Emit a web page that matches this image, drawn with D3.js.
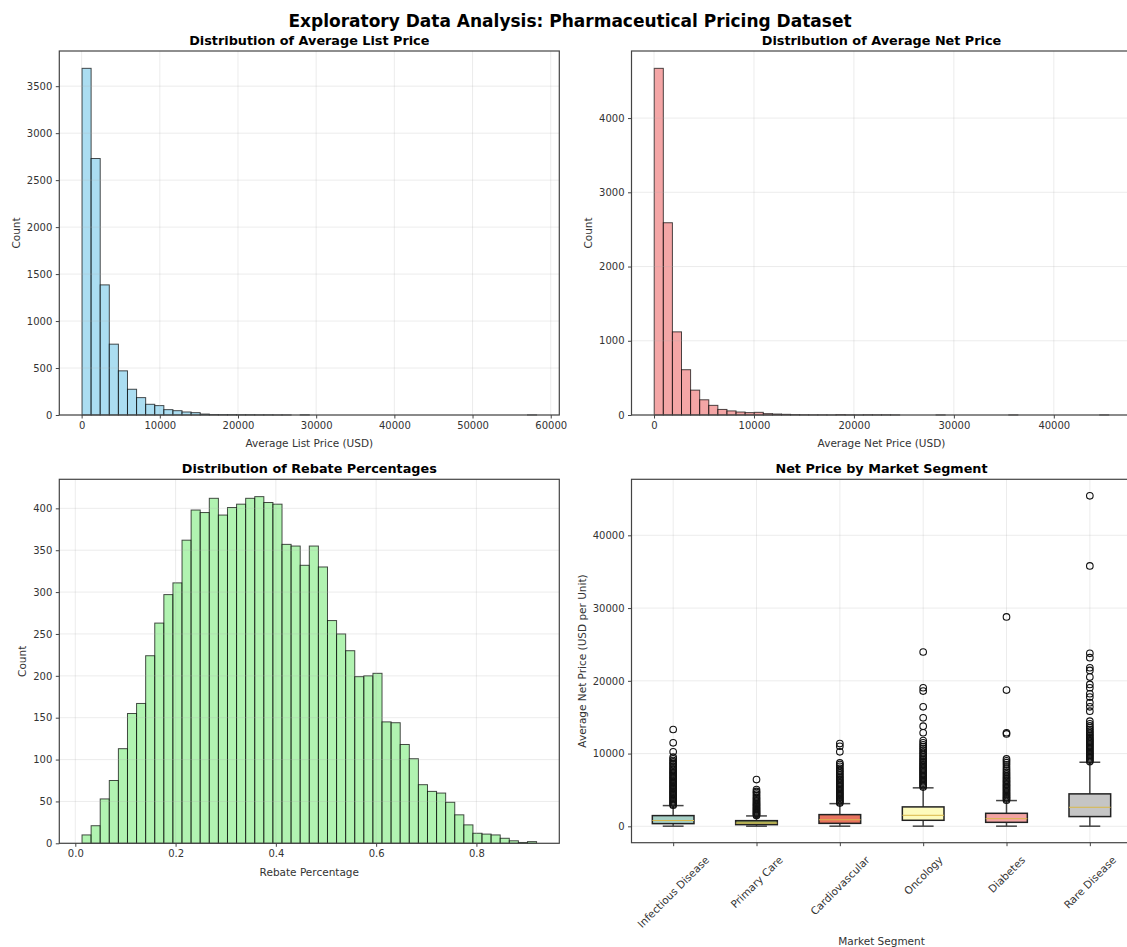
<!DOCTYPE html>
<html>
<head>
<meta charset="utf-8">
<script src="https://cdn.jsdelivr.net/npm/d3@7"></script>
<style>
  html, body { margin: 0; padding: 0; background: #fff; }
  svg { display: block; font-family: "DejaVu Sans", sans-serif; }
</style>
</head>
<body>
<svg id="chart" width="1127" height="947"></svg>
<script>
// ---------------- DATA ----------------
const mainTitle = "Exploratory Data Analysis: Pharmaceutical Pricing Dataset";

// Histogram 1: Average List Price (50 bins)
const listPriceRange = [50, 58190];
const listPriceCounts = [3690, 2730, 1385, 754, 470, 274, 185, 114, 100, 57,
  46, 32, 25, 10, 5, 4, 4, 3, 3, 2,
  2, 1, 1, 0, 2, 0, 0, 0, 0, 0,
  0, 0, 0, 0, 0, 0, 0, 0, 0, 0,
  0, 0, 0, 0, 0, 0, 0, 0, 0, 1];
const listPriceTicks = [0, 10000, 20000, 30000, 40000, 50000, 60000];
const listCountTicks = [0, 500, 1000, 1500, 2000, 2500, 3000, 3500];

// Histogram 2: Average Net Price (50 bins)
const netPriceRange = [20, 45500];
const netPriceCounts = [4670, 2590, 1120, 610, 335, 205, 130, 75, 55, 40,
  32, 36, 18, 13, 9, 5, 3, 2, 2, 1,
  5, 2, 1, 3, 2, 2, 1, 0, 0, 0,
  0, 1, 0, 0, 0, 0, 0, 0, 0, 1,
  0, 0, 0, 0, 0, 0, 0, 0, 0, 1];
const netPriceTicks = [0, 10000, 20000, 30000, 40000];
const netCountTicks = [0, 1000, 2000, 3000, 4000];

// Histogram 3: Rebate Percentage (50 bins)
const rebateRange = [0.0134, 0.920];
const rebateCounts = [10, 21, 53, 75, 113, 155, 167, 224, 263, 297,
  311, 362, 398, 395, 412, 392, 401, 405, 412, 414,
  407, 405, 357, 355, 332, 355, 330, 266, 250, 230,
  199, 200, 203, 145, 144, 118, 101, 70, 62, 60,
  49, 34, 22, 12, 11, 10, 6, 3, 1, 2];
const rebateTicks = [0.0, 0.2, 0.4, 0.6, 0.8];
const rebateCountTicks = [0, 50, 100, 150, 200, 250, 300, 350, 400];

// Box plot: Net Price by Market Segment
const segments = ["Infectious Disease", "Primary Care", "Cardiovascular", "Oncology", "Diabetes", "Rare Disease"];
const boxWhiskerLow  = [20, 20, 20, 20, 20, 20];
const boxQ1          = [372, 230, 410, 830, 550, 1340];
const boxMedian      = [800, 450, 900, 1515, 1050, 2620];
const boxQ3          = [1473, 780, 1610, 2670, 1790, 4460];
const boxWhiskerHigh = [2850, 1430, 3120, 5290, 3540, 8810];
const outliersInfectious = [2900, 3050, 3200, 3380, 3520, 3700, 3850, 4020, 4180, 4350, 4500, 4680, 4830, 5000, 5170, 5320, 5500, 5650, 5830, 6000, 6150, 6330, 6500, 6680, 6820, 7000, 7180, 7350, 7500, 7700, 7880, 8050, 8250, 8450, 8650, 8850, 9050, 9280, 9500, 10240, 11480, 13310];
const outliersPrimary = [1500, 1620, 1750, 1880, 2000, 2130, 2270, 2400, 2550, 2700, 2850, 3000, 3150, 3300, 3480, 3650, 3820, 4000, 4200, 4420, 4650, 4800, 5050, 6430];
const outliersCardio = [3200, 3350, 3500, 3680, 3850, 4000, 4180, 4350, 4520, 4700, 4880, 5050, 5230, 5400, 5580, 5750, 5930, 6100, 6300, 6480, 6680, 6880, 7080, 7300, 7520, 7750, 7980, 8250, 8500, 8720, 10240, 11010, 11380];
const outliersOncology = [5400, 5580, 5750, 5930, 6100, 6280, 6450, 6630, 6800, 6980, 7150, 7330, 7500, 7680, 7850, 8030, 8200, 8380, 8560, 8750, 8950, 9150, 9350, 9560, 9780, 10000, 10220, 10450, 10700, 10950, 11200, 11480, 11800, 12860, 13770, 14920, 16430, 18590, 19050, 23960];
const outliersDiabetes = [3600, 3760, 3920, 4080, 4250, 4420, 4580, 4750, 4920, 5100, 5280, 5450, 5630, 5800, 5980, 6170, 6350, 6550, 6750, 6960, 7180, 7400, 7630, 7880, 8150, 8450, 8750, 9000, 9270, 12700, 12860, 18730, 28780];
const outliersRare = [8900, 9080, 9250, 9430, 9600, 9780, 9950, 10130, 10300, 10480, 10650, 10830, 11000, 11180, 11350, 11530, 11700, 11880, 12050, 12250, 12450, 12650, 12850, 13080, 13300, 13550, 13800, 14100, 14460, 15830, 16430, 16990, 17760, 18220, 19050, 19510, 20510, 21430, 21800, 23180, 23780, 35790, 45430];
const boxOutliers = [outliersInfectious, outliersPrimary, outliersCardio, outliersOncology, outliersDiabetes, outliersRare];
const boxColors = ["#a6cfc5", "#93a65e", "#e8735f", "#fdfbbd", "#f3a3a3", "#c5c5c5"];
const boxYTicks = [0, 10000, 20000, 30000, 40000];

// ---------------- LAYOUT ----------------
const svg = d3.select("#chart");
const FONT = "DejaVu Sans";
const TICK_FS = 10, LABEL_FS = 10.5, SUB_FS = 12.8;
const axisColor = "#444";
const panels = {
  tl: { x: 59.3, y: 51, w: 500, h: 364 },
  tr: { x: 631.5, y: 51, w: 500, h: 364 },
  bl: { x: 59.3, y: 479.3, w: 500, h: 364 },
  br: { x: 631.5, y: 479.3, w: 500, h: 363.4 }
};

svg.append("rect").attr("width", 1127).attr("height", 947).attr("fill", "#fff");

svg.append("text")
  .attr("x", 570).attr("y", 20.5)
  .attr("text-anchor", "middle").attr("dominant-baseline", "central")
  .attr("font-size", 17).attr("font-weight", "bold").attr("fill", "#000")
  .text(mainTitle);

function drawFrame(g, p) {
  g.append("rect").attr("x", 0).attr("y", 0).attr("width", p.w).attr("height", p.h)
    .attr("fill", "none").attr("stroke", axisColor).attr("stroke-width", 1.2);
}

function drawGrid(g, p, xs, ys, xTicks, yTicks) {
  const gg = g.append("g");
  gg.selectAll("line.gx").data(xTicks).join("line")
    .attr("x1", d => xs(d)).attr("x2", d => xs(d)).attr("y1", 0).attr("y2", p.h)
    .attr("stroke", "#b0b0b0").attr("stroke-opacity", 0.3).attr("stroke-width", 0.8);
  gg.selectAll("line.gy").data(yTicks).join("line")
    .attr("x1", 0).attr("x2", p.w).attr("y1", d => ys(d)).attr("y2", d => ys(d))
    .attr("stroke", "#b0b0b0").attr("stroke-opacity", 0.3).attr("stroke-width", 0.8);
}

function styleAxis(ax) {
  ax.select(".domain").remove();
  ax.selectAll(".tick line").attr("stroke", axisColor).attr("stroke-width", 1);
  ax.selectAll(".tick text").attr("fill", "#333").attr("font-size", TICK_FS).attr("font-family", FONT);
}

function drawAxes(g, p, xs, ys, xTicks, yTicks, xFmt, yFmt) {
  const xa = g.append("g").attr("transform", `translate(0,${p.h})`)
    .call(d3.axisBottom(xs).tickValues(xTicks).tickFormat(xFmt).tickSizeOuter(0).tickSize(3.5).tickPadding(3.5));
  styleAxis(xa);
  const ya = g.append("g")
    .call(d3.axisLeft(ys).tickValues(yTicks).tickFormat(yFmt).tickSizeOuter(0).tickSize(3.5).tickPadding(3.5));
  styleAxis(ya);
  return { xa, ya };
}

function yLabelX(ya) {
  let minX = 0;
  ya.selectAll(".tick text").each(function () {
    const b = this.getBBox();
    if (b.x < minX) minX = b.x;
  });
  return minX - 6 - LABEL_FS * 0.45;
}

function addLabels(g, p, ya, title, xLabel, yLabel, xLabelOffset) {
  g.append("text").attr("x", p.w / 2).attr("y", -10.5)
    .attr("text-anchor", "middle").attr("dominant-baseline", "central")
    .attr("font-size", SUB_FS).attr("font-weight", "bold").attr("fill", "#000")
    .text(title);
  g.append("text").attr("x", p.w / 2).attr("y", p.h + xLabelOffset)
    .attr("text-anchor", "middle").attr("dominant-baseline", "central")
    .attr("font-size", LABEL_FS).attr("fill", "#333")
    .text(xLabel);
  g.append("text")
    .attr("transform", `translate(${yLabelX(ya)},${p.h / 2}) rotate(-90)`)
    .attr("text-anchor", "middle").attr("dominant-baseline", "central")
    .attr("font-size", LABEL_FS).attr("fill", "#333")
    .text(yLabel);
}

function histogram(p, range, counts, fill, xTicks, yTicks, xFmt, title, xLabel) {
  const g = svg.append("g").attr("transform", `translate(${p.x},${p.y})`);
  const span = range[1] - range[0];
  const xs = d3.scaleLinear().domain([range[0] - 0.05 * span, range[1] + 0.05 * span]).range([0, p.w]);
  const ys = d3.scaleLinear().domain([0, d3.max(counts) * 1.05]).range([p.h, 0]);
  const bw = span / counts.length;
  const bins = counts.map((c, i) => ({ x0: range[0] + i * bw, x1: range[0] + (i + 1) * bw, c }));
  g.append("g").selectAll("rect").data(bins).join("rect")
    .attr("x", d => xs(d.x0)).attr("width", d => xs(d.x1) - xs(d.x0))
    .attr("y", d => ys(d.c)).attr("height", d => ys(0) - ys(d.c))
    .attr("fill", fill).attr("fill-opacity", 0.7)
    .attr("stroke", "#000").attr("stroke-opacity", 0.7).attr("stroke-width", 1);
  drawGrid(g, p, xs, ys, xTicks, yTicks);
  drawFrame(g, p);
  const { ya } = drawAxes(g, p, xs, ys, xTicks, yTicks, xFmt, d3.format("d"));
  addLabels(g, p, ya, title, xLabel, "Count", 28.4);
}

histogram(panels.tl, listPriceRange, listPriceCounts, "skyblue", listPriceTicks, listCountTicks,
  d3.format("d"), "Distribution of Average List Price", "Average List Price (USD)");
histogram(panels.tr, netPriceRange, netPriceCounts, "lightcoral", netPriceTicks, netCountTicks,
  d3.format("d"), "Distribution of Average Net Price", "Average Net Price (USD)");
histogram(panels.bl, rebateRange, rebateCounts, "lightgreen", rebateTicks, rebateCountTicks,
  d3.format(".1f"), "Distribution of Rebate Percentages", "Rebate Percentage");

// ---------------- BOX PLOT ----------------
(function () {
  const p = panels.br;
  const g = svg.append("g").attr("transform", `translate(${p.x},${p.y})`);
  const pos = segments.map((s, i) => i + 1);
  const xs = d3.scaleLinear().domain([0.5, segments.length + 0.5]).range([0, p.w]);
  const allMax = d3.max(boxOutliers.map(o => d3.max(o)));
  const allMin = d3.min(boxWhiskerLow);
  const sp = allMax - allMin;
  const ys = d3.scaleLinear().domain([allMin - 0.05 * sp, allMax + 0.05 * sp]).range([p.h, 0]);
  drawGrid(g, p, xs, ys, pos, boxYTicks);

  const boxW = xs(1.25) - xs(1);      // half width (box width 0.5)
  const capW = boxW / 2;
  segments.forEach((s, i) => {
    const cx = xs(i + 1);
    const sg = g.append("g");
    sg.append("line").attr("x1", cx).attr("x2", cx).attr("y1", ys(boxQ1[i])).attr("y2", ys(boxWhiskerLow[i]))
      .attr("stroke", "#444").attr("stroke-width", 1.5);
    sg.append("line").attr("x1", cx).attr("x2", cx).attr("y1", ys(boxQ3[i])).attr("y2", ys(boxWhiskerHigh[i]))
      .attr("stroke", "#444").attr("stroke-width", 1.5);
    [boxWhiskerLow[i], boxWhiskerHigh[i]].forEach(v => {
      sg.append("line").attr("x1", cx - capW).attr("x2", cx + capW).attr("y1", ys(v)).attr("y2", ys(v))
        .attr("stroke", "#444").attr("stroke-width", 1.5);
    });
    sg.append("rect").attr("x", cx - boxW).attr("width", 2 * boxW)
      .attr("y", ys(boxQ3[i])).attr("height", ys(boxQ1[i]) - ys(boxQ3[i]))
      .attr("fill", boxColors[i]).attr("stroke", "#222").attr("stroke-width", 1.5);
    sg.append("line").attr("x1", cx - boxW).attr("x2", cx + boxW)
      .attr("y1", ys(boxMedian[i])).attr("y2", ys(boxMedian[i]))
      .attr("stroke", "#d9b84a").attr("stroke-width", 1);
    sg.selectAll("circle").data(boxOutliers[i]).join("circle")
      .attr("cx", cx).attr("cy", d => ys(d)).attr("r", 3.3)
      .attr("fill", "none").attr("stroke", "#111").attr("stroke-width", 1.1);
  });

  drawFrame(g, p);
  const xa = g.append("g").attr("transform", `translate(0,${p.h})`)
    .call(d3.axisBottom(xs).tickValues(pos).tickFormat(() => "").tickSizeOuter(0).tickSize(3.5));
  styleAxis(xa);
  const ya = g.append("g")
    .call(d3.axisLeft(ys).tickValues(boxYTicks).tickFormat(d3.format("d")).tickSizeOuter(0).tickSize(3.5).tickPadding(3.5));
  styleAxis(ya);

  // rotated category labels (45°, centred under tick)
  const top = p.h + 11;
  const s45 = Math.SQRT1_2;
  segments.forEach((s, i) => {
    const t = g.append("text").attr("text-anchor", "middle").attr("dominant-baseline", "central")
      .attr("font-size", LABEL_FS).attr("fill", "#333").text(s);
    const len = t.node().getComputedTextLength();
    const H = (len + LABEL_FS * 1.1) * s45;
    t.attr("transform", `translate(${xs(i + 1)},${top + H / 2}) rotate(-45)`);
  });

  g.append("text").attr("x", p.w / 2).attr("y", -10.5)
    .attr("text-anchor", "middle").attr("dominant-baseline", "central")
    .attr("font-size", SUB_FS).attr("font-weight", "bold").attr("fill", "#000")
    .text("Net Price by Market Segment");
  g.append("text").attr("x", p.w / 2).attr("y", 941 - p.y)
    .attr("text-anchor", "middle").attr("dominant-baseline", "central")
    .attr("font-size", LABEL_FS).attr("fill", "#333")
    .text("Market Segment");
  g.append("text")
    .attr("transform", `translate(${yLabelX(ya)},${p.h / 2}) rotate(-90)`)
    .attr("text-anchor", "middle").attr("dominant-baseline", "central")
    .attr("font-size", LABEL_FS).attr("fill", "#333")
    .text("Average Net Price (USD per Unit)");
})();
</script>
</body>
</html>
